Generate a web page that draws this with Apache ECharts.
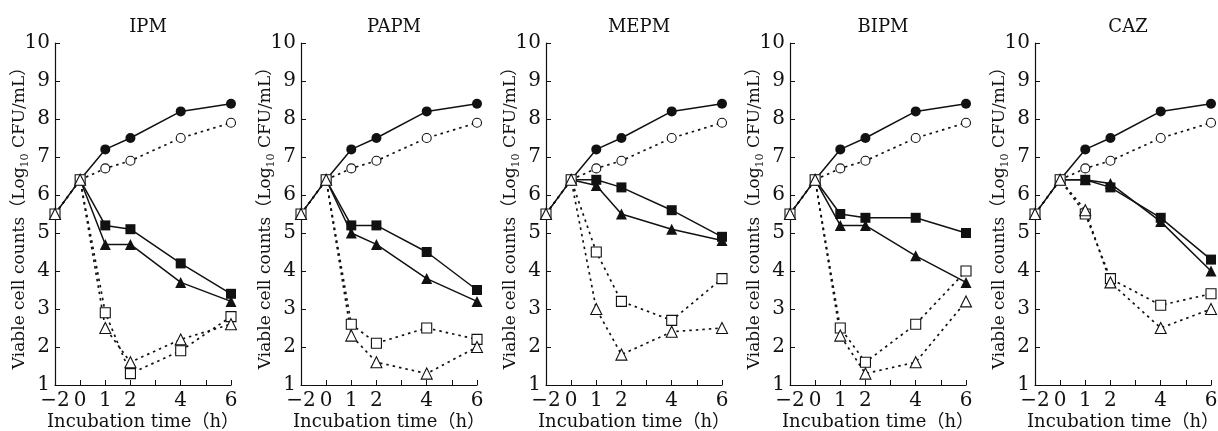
<!DOCTYPE html>
<html>
<head>
<meta charset="utf-8">
<script src="https://cdn.jsdelivr.net/npm/echarts@6/dist/echarts.min.js"></script>
<style>
html,body{margin:0;padding:0;background:#fff;}
#chart{width:1218px;height:431px;}
</style>
</head>
<body>
<div id="chart"></div>
<script>
// ---- data ----
const drugs = ['IPM', 'PAPM', 'MEPM', 'BIPM', 'CAZ'];
const xCategories = ['−2', '0', '1', '2', '3', '4', '5', '6'];
const xTickLabels = ['−2', '0', '1', '2', '', '4', '', '6'];
const yTicks = [1, 2, 3, 4, 5, 6, 7, 8, 9, 10];
const times = ['−2', '0', '1', '2', '4', '6'];

// control (identical in each panel)
const controlFilledCircle = [5.5, 6.4, 7.2, 7.5, 8.2, 8.4];
const controlOpenCircle   = [null, 6.4, 6.7, 6.9, 7.5, 7.9];

// IPM
const ipmFilledSquare   = [null, 6.4, 5.2, 5.1, 4.2, 3.4];
const ipmFilledTriangle = [null, 6.4, 4.7, 4.7, 3.7, 3.2];
const ipmOpenSquare     = [5.5, 6.4, 2.9, 1.3, 1.9, 2.8];
const ipmOpenTriangle   = [5.5, 6.4, 2.5, 1.6, 2.2, 2.6];
// PAPM
const papmFilledSquare   = [null, 6.4, 5.2, 5.2, 4.5, 3.5];
const papmFilledTriangle = [null, 6.4, 5.0, 4.7, 3.8, 3.2];
const papmOpenSquare     = [5.5, 6.4, 2.6, 2.1, 2.5, 2.2];
const papmOpenTriangle   = [5.5, 6.4, 2.3, 1.6, 1.3, 2.0];
// MEPM
const mepmFilledSquare   = [null, 6.4, 6.4, 6.2, 5.6, 4.9];
const mepmFilledTriangle = [null, 6.4, 6.25, 5.5, 5.1, 4.8];
const mepmOpenSquare     = [5.5, 6.4, 4.5, 3.2, 2.7, 3.8];
const mepmOpenTriangle   = [5.5, 6.4, 3.0, 1.8, 2.4, 2.5];
// BIPM
const bipmFilledSquare   = [null, 6.4, 5.5, 5.4, 5.4, 5.0];
const bipmFilledTriangle = [null, 6.4, 5.2, 5.2, 4.4, 3.7];
const bipmOpenSquare     = [5.5, 6.4, 2.5, 1.6, 2.6, 4.0];
const bipmOpenTriangle   = [5.5, 6.4, 2.3, 1.3, 1.6, 3.2];
// CAZ
const cazFilledSquare   = [null, 6.4, 6.4, 6.2, 5.4, 4.3];
const cazFilledTriangle = [null, 6.4, 6.4, 6.3, 5.3, 4.0];
const cazOpenSquare     = [5.5, 6.4, 5.5, 3.8, 3.1, 3.4];
const cazOpenTriangle   = [5.5, 6.4, 5.6, 3.7, 2.5, 3.0];

const panelData = {
  IPM:  [ipmFilledSquare, ipmFilledTriangle, ipmOpenSquare, ipmOpenTriangle],
  PAPM: [papmFilledSquare, papmFilledTriangle, papmOpenSquare, papmOpenTriangle],
  MEPM: [mepmFilledSquare, mepmFilledTriangle, mepmOpenSquare, mepmOpenTriangle],
  BIPM: [bipmFilledSquare, bipmFilledTriangle, bipmOpenSquare, bipmOpenTriangle],
  CAZ:  [cazFilledSquare, cazFilledTriangle, cazOpenSquare, cazOpenTriangle]
};

// ---- layout / style ----
const FONT = '"DejaVu Serif", "Noto Sans CJK JP", serif';
const INK = '#111';
const gridLefts = [55, 301, 546, 790, 1035];
const gridWidth = 176;
const gridTop = 43;
const gridHeight = 342;

function pairs(arr) {
  return times.map((t, i) => [t, arr[i]]);
}

const grids = [], xAxes = [], yAxes = [], titles = [], series = [];

drugs.forEach((drug, k) => {
  const left = gridLefts[k];
  grids.push({ left: left, top: gridTop, width: gridWidth, height: gridHeight, containLabel: false, outerBoundsMode: 'none' });
  titles.push({
    text: drug, left: left + gridWidth / 2, top: 13, textAlign: 'center',
    textStyle: { fontFamily: FONT, fontSize: 18, fontWeight: 'normal', color: INK }
  });
  xAxes.push({
    gridIndex: k, type: 'category', data: xCategories, boundaryGap: false,
    axisLine: { show: true, lineStyle: { color: INK, width: 1.2 } },
    axisTick: { show: true, inside: true, length: 5, alignWithLabel: true, interval: 0, lineStyle: { color: INK } },
    axisLabel: {
      interval: 0, margin: 6, color: INK, fontFamily: FONT, fontSize: 20,
      formatter: (v, i) => xTickLabels[i]
    },
    splitLine: { show: false },
    name: 'Incubation time（h）', nameLocation: 'middle', nameGap: 28, nameMoveOverlap: false,
    nameTextStyle: { fontFamily: FONT, fontSize: 18, color: INK }
  });
  yAxes.push({
    gridIndex: k, type: 'value', min: yTicks[0], max: yTicks[yTicks.length - 1], interval: 1,
    axisLine: { show: true, onZero: false, lineStyle: { color: INK, width: 1.2 } },
    axisTick: { show: true, inside: true, length: 5, lineStyle: { color: INK } },
    axisLabel: { margin: 5, color: INK, fontFamily: FONT, fontSize: 20 },
    splitLine: { show: false },
    name: '{a|Viable cell counts（Log}{s|10}{a| CFU/mL）}',
    nameLocation: 'middle', nameGap: 24, nameRotate: 90, nameMoveOverlap: false,
    nameTextStyle: {
      color: INK,
      rich: {
        a: { fontFamily: FONT, fontSize: 17, color: INK, lineHeight: 22 },
        s: { fontFamily: FONT, fontSize: 11, color: INK, lineHeight: 12, verticalAlign: 'bottom' }
      }
    }
  });

  const solid = { color: INK, width: 1.5, type: 'solid' };
  const dotted = { color: INK, width: 1.7, type: [2.5, 4] };
  const filled = { color: INK, borderColor: INK, borderWidth: 0 };
  const open = { color: '#fff', borderColor: INK, borderWidth: 1.1 };
  const d = panelData[drug];
  const defs = [
    { arr: controlFilledCircle, symbol: 'circle', size: 10, line: solid, item: filled },
    { arr: controlOpenCircle, symbol: 'circle', size: 9, line: dotted, item: open },
    { arr: d[0], symbol: 'rect', size: 10, line: solid, item: filled },
    { arr: d[1], symbol: 'triangle', size: 11, line: solid, item: filled },
    { arr: d[2], symbol: 'rect', size: 10, line: dotted, item: open },
    { arr: d[3], symbol: 'triangle', size: 11, line: dotted, item: open }
  ];
  defs.forEach(s => {
    series.push({
      type: 'line', xAxisIndex: k, yAxisIndex: k,
      data: pairs(s.arr),
      symbol: s.symbol, symbolSize: s.size, showAllSymbol: true,
      lineStyle: s.line, itemStyle: s.item,
      animation: false, silent: true
    });
  });
});

const chart = echarts.init(document.getElementById('chart'), null, { renderer: 'canvas' });
chart.setOption({
  backgroundColor: '#fff',
  animation: false,
  title: titles,
  grid: grids,
  xAxis: xAxes,
  yAxis: yAxes,
  series: series
});
</script>
</body>
</html>
